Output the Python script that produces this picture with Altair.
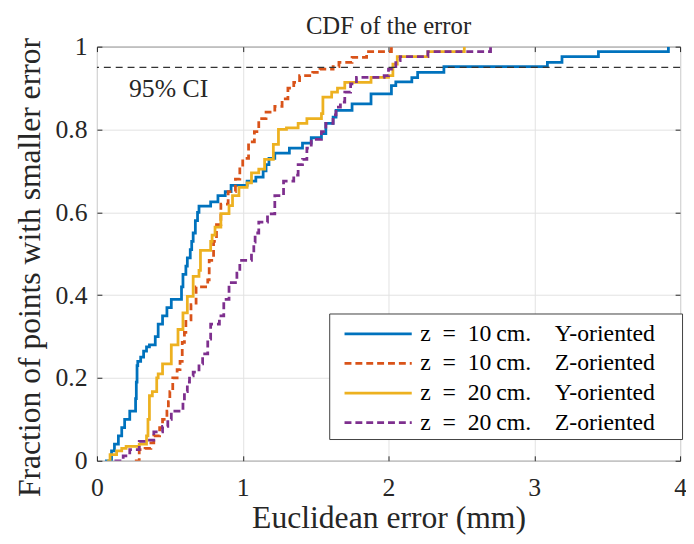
import altair as alt
import pandas as pd

FONT = "Liberation Serif"

EN = "\u2002"
EM = "\u2003"
TH = "\u2009"
PAD = TH + "\u2800"  # blank tail that keeps the legend box as wide as the reference's
series_names = [
    "z" + EN + "=" + EN + "10" + TH + "cm." + EM + "Y-oriented" + PAD,
    "z" + EN + "=" + EN + "10" + TH + "cm." + EM + "Z-oriented" + PAD,
    "z" + EN + "=" + EN + "20" + TH + "cm." + EM + "Y-oriented" + PAD,
    "z" + EN + "=" + EN + "20" + TH + "cm." + EM + "Z-oriented" + PAD,
]
colors = ["#0072BD", "#D95319", "#EDB120", "#7E2F8E"]
dashes = [[1, 0], [7, 4], [1, 0], [7, 4]]

# z = 10 cm, Y-oriented (blue)
blue_x = [0.055, 0.10, 0.12, 0.147, 0.17, 0.19, 0.225, 0.265, 0.27, 0.275, 0.28, 0.30, 0.32, 0.34, 0.36,
          0.40, 0.42, 0.45, 0.48, 0.51, 0.58, 0.59, 0.61, 0.62, 0.64, 0.65, 0.66, 0.675, 0.69, 0.70,
          0.78, 0.83, 0.88, 0.92, 1.03, 1.09, 1.14, 1.16, 1.18, 1.22, 1.32, 1.41, 1.47, 1.54, 1.57,
          1.62, 1.64, 1.75, 1.88, 2.02, 2.05, 2.16, 2.20, 2.38, 3.09, 3.19, 3.44, 3.92]
blue_y = [0.0, 0.024, 0.04, 0.06, 0.08, 0.10, 0.12, 0.15, 0.19, 0.23, 0.24, 0.25, 0.265, 0.275, 0.28,
          0.30, 0.33, 0.35, 0.37, 0.39, 0.42, 0.45, 0.47, 0.49, 0.51, 0.53, 0.55, 0.58, 0.60, 0.615,
          0.625, 0.64, 0.65, 0.665, 0.675, 0.685, 0.70, 0.715, 0.73, 0.743, 0.755, 0.767, 0.78, 0.79, 0.815,
          0.83, 0.846, 0.862, 0.886, 0.906, 0.915, 0.925, 0.938, 0.952, 0.962, 0.976, 0.988, 1.0]

# z = 10 cm, Z-oriented (orange)
orange_x = [0.26, 0.29, 0.33, 0.37, 0.39, 0.43, 0.45, 0.48, 0.49, 0.50, 0.52, 0.55, 0.57, 0.585, 0.60,
            0.61, 0.645, 0.68, 0.76, 0.77, 0.80, 0.82, 0.85, 0.90, 0.95, 0.98, 1.0, 1.04, 1.08, 1.11,
            1.16, 1.22, 1.27, 1.31, 1.35, 1.39, 1.48, 1.53, 1.62, 1.66, 1.75, 1.85, 2.02]
orange_y = [0.0, 0.027, 0.03, 0.043, 0.06, 0.08, 0.10, 0.12, 0.143, 0.167, 0.20, 0.22, 0.24, 0.286, 0.31,
            0.34, 0.377, 0.42, 0.437, 0.484, 0.53, 0.57, 0.62, 0.65, 0.68, 0.71, 0.73, 0.77, 0.795, 0.826,
            0.842, 0.856, 0.874, 0.90, 0.914, 0.93, 0.938, 0.946, 0.952, 0.962, 0.974, 0.988, 1.0]

# z = 20 cm, Y-oriented (yellow)
yellow_x = [0.07, 0.09, 0.135, 0.17, 0.20, 0.29, 0.34, 0.35, 0.36, 0.38, 0.41, 0.42, 0.45, 0.51, 0.556,
            0.59, 0.62, 0.66, 0.70, 0.71, 0.78, 0.79, 0.81, 0.85, 0.906, 0.93, 0.974, 1.03, 1.06, 1.11,
            1.15, 1.21, 1.245, 1.30, 1.38, 1.44, 1.54, 1.55, 1.61, 1.65, 1.70, 1.88, 2.0, 2.03, 2.06,
            2.27, 2.52]
yellow_y = [0.0, 0.015, 0.024, 0.03, 0.035, 0.04, 0.06, 0.10, 0.157, 0.167, 0.20, 0.21, 0.234, 0.28, 0.317,
            0.357, 0.397, 0.445, 0.46, 0.508, 0.53, 0.545, 0.564, 0.597, 0.616, 0.64, 0.66, 0.671, 0.695, 0.704,
            0.728, 0.764, 0.80, 0.804, 0.815, 0.826, 0.838, 0.878, 0.89, 0.90, 0.914, 0.926, 0.93, 0.958, 0.976,
            0.988, 1.0]

# z = 20 cm, Z-oriented (purple)
purple_x = [0.12, 0.18, 0.225, 0.29, 0.34, 0.39, 0.45, 0.486, 0.51, 0.59, 0.60, 0.62, 0.635, 0.66, 0.70,
            0.725, 0.76, 0.78, 0.84, 0.87, 0.906, 0.96, 0.98, 1.06, 1.076, 1.085, 1.11, 1.17, 1.22, 1.28,
            1.35, 1.38, 1.41, 1.44, 1.47, 1.54, 1.57, 1.62, 1.64, 1.67, 1.70, 1.74, 1.78, 1.97, 2.0,
            2.05, 2.08, 2.27, 2.70]
purple_y = [0.0, 0.012, 0.027, 0.047, 0.05, 0.07, 0.083, 0.10, 0.12, 0.143, 0.167, 0.19, 0.205, 0.214, 0.234,
            0.258, 0.294, 0.33, 0.35, 0.39, 0.43, 0.453, 0.484, 0.50, 0.528, 0.55, 0.576, 0.596, 0.64, 0.675,
            0.69, 0.715, 0.728, 0.755, 0.776, 0.795, 0.815, 0.835, 0.854, 0.866, 0.89, 0.91, 0.926, 0.93, 0.946,
            0.966, 0.976, 0.988, 1.0]

ci_level = [0.95]
ci_label = ["95% CI"]
ci_label_pos = [0.22, 0.897]

x_ticks = [0, 1, 2, 3, 4]
y_ticks = [0, 0.2, 0.4, 0.6, 0.8, 1.0]

rows = []
for name, xs, ys in zip(series_names, [blue_x, orange_x, yellow_x, purple_x],
                        [blue_y, orange_y, yellow_y, purple_y]):
    for i, (xv, yv) in enumerate(zip(xs, ys)):
        rows.append({"series": name, "x": xv, "y": yv, "i": i})
df = pd.DataFrame(rows)

xscale = alt.Scale(domain=[0, 4], nice=False, zero=False)
yscale = alt.Scale(domain=[0, 1], nice=False, zero=False)

TICK = "#262626"
GRID = "#e2e2e2"
TXT = "#262626"

legend_cfg = dict(
    title=None, orient="none", legendX=235, legendY=270,
    symbolType="M-2.2667,0H2.2667", symbolSize=900, symbolStrokeWidth=2.8,
    symbolOffset=29, labelOffset=26,
    labelFont=FONT, labelFontSize=24, labelColor="black", labelLimit=500,
    strokeColor="#404040", fillColor="white", padding=4, rowPadding=1,
)

lines = alt.Chart(df).mark_line(interpolate="step-after", strokeWidth=2.8, clip=True).encode(
    x=alt.X("x:Q", scale=xscale, axis=alt.Axis(
        orient="bottom", title="Euclidean error (mm)", values=x_ticks, format="~g",
        grid=True, gridColor=GRID, domain=False, ticks=True, tickSize=5, offset=-5,
        tickColor=TICK, labelFont=FONT, labelFontSize=26, labelColor=TXT, labelPadding=14,
        labelFlush=False, labelOverlap=False,
        titleFont=FONT, titleFontSize=32, titleFontWeight="normal", titleColor=TXT, titlePadding=3,
        titleX=295)),
    y=alt.Y("y:Q", scale=yscale, axis=alt.Axis(
        orient="left", title="Fraction of points with smaller error", values=y_ticks, format="~g",
        grid=True, gridColor=GRID, domain=False, ticks=True, tickSize=5, offset=-5,
        tickColor=TICK, labelFont=FONT, labelFontSize=26, labelColor=TXT, labelPadding=10,
        labelFlush=False, labelOverlap=False,
        titleFont=FONT, titleFontSize=32, titleFontWeight="normal", titleColor=TXT, titlePadding=9,
        titleY=223)),
    color=alt.Color("series:N", scale=alt.Scale(domain=series_names, range=colors),
                    legend=alt.Legend(**legend_cfg)),
    strokeDash=alt.StrokeDash("series:N", scale=alt.Scale(domain=series_names, range=dashes),
                              legend=alt.Legend(**legend_cfg)),
    order="i:Q",
)

ci_rule = alt.Chart(pd.DataFrame({"y": ci_level})).mark_rule(
    color="#333333", strokeDash=[7, 5], strokeWidth=1.3).encode(
    y=alt.Y("y:Q", scale=yscale, axis=None))

ci_text = alt.Chart(pd.DataFrame({"x": [ci_label_pos[0]], "y": [ci_label_pos[1]], "t": ci_label})).mark_text(
    align="left", baseline="middle", font=FONT, fontSize=26, color=TXT).encode(
    x=alt.X("x:Q", scale=xscale, axis=alt.Axis(
        orient="top", title=None, values=x_ticks, labels=False, grid=False, domain=False,
        ticks=True, tickSize=5, offset=-5, tickColor=TICK)),
    y=alt.Y("y:Q", scale=yscale, axis=alt.Axis(
        orient="right", title=None, values=y_ticks, labels=False, grid=False, domain=False,
        ticks=True, tickSize=5, offset=-5, tickColor=TICK)),
    text="t:N",
)

chart = alt.layer(lines, ci_rule, ci_text).resolve_axis(
    x="independent", y="independent"
).properties(
    width=590, height=419,
    padding={"left": 90, "top": 36, "right": 6, "bottom": 72},
    autosize=alt.AutoSizeParams(type="none"),
    title=alt.Title("CDF of the error", font=FONT, fontSize=25, fontWeight="normal",
                    color=TXT, offset=-5, anchor="middle"),
).configure_view(stroke="#404040", strokeWidth=1)

chart.save("out.html", embed_options={"renderer": "svg", "actions": False})
